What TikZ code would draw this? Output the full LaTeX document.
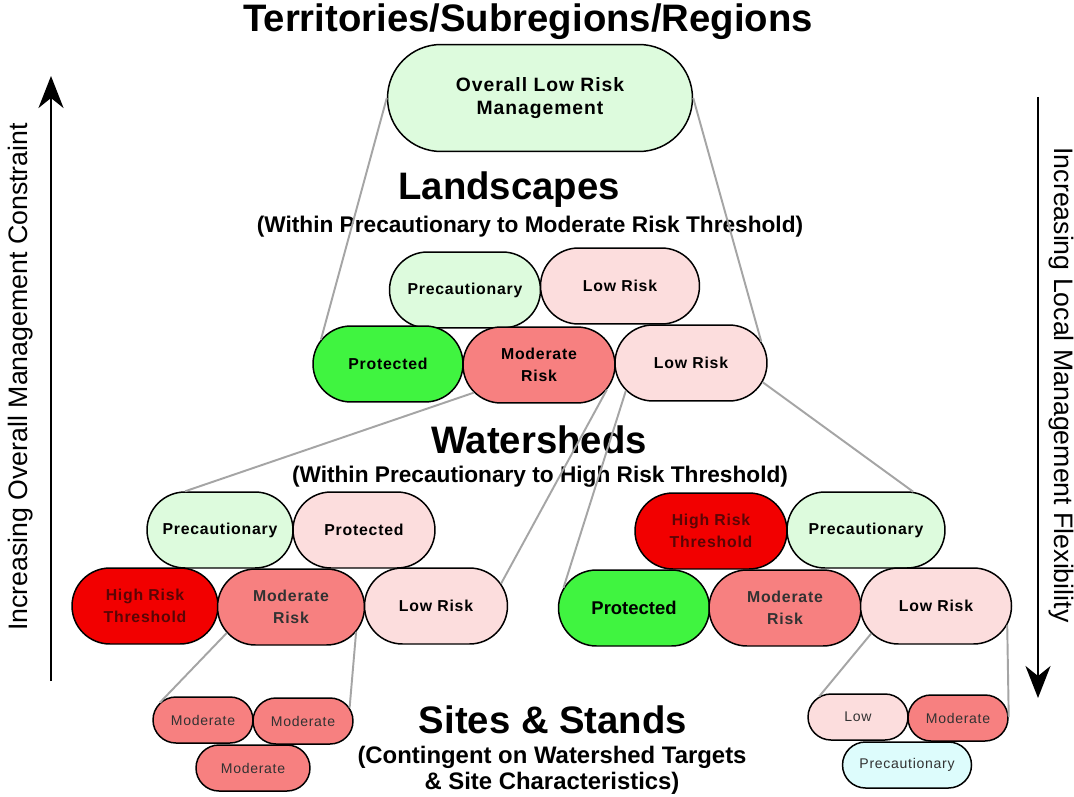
\documentclass[tikz,border=0pt]{standalone}
\usepackage{fontspec}
\setmainfont{Liberation Sans}
\newfontfamily\boxfont[LetterSpace=5]{Liberation Sans}
\usetikzlibrary{shapes.misc,arrows.meta}

\definecolor{palegreen}{RGB}{221,251,221}
\definecolor{palepink}{RGB}{252,221,221}
\definecolor{brightgreen}{RGB}{64,244,64}
\definecolor{salmon}{RGB}{247,128,128}
\definecolor{hotred}{RGB}{242,0,0}
\definecolor{palecyan}{RGB}{221,252,252}
\definecolor{linkgray}{RGB}{165,165,165}
\definecolor{darkred}{RGB}{90,5,5}
\definecolor{darktext}{RGB}{50,50,50}

\begin{document}
\begin{tikzpicture}
    [x=0.02cm,y=-0.02cm,
     pill/.style={draw, rounded rectangle, line width=0.85pt, inner sep=0pt, align=center,
       minimum width=3.04cm, minimum height=1.52cm, font=\boxfont\bfseries\fontsize{9}{12.5}\selectfont},
     site/.style={pill, minimum width=2cm, minimum height=0.92cm, font=\boxfont\fontsize{8}{10}\selectfont, text=darktext},
     link/.style={draw=linkgray, line width=1.1pt},
     heading/.style={font=\bfseries\fontsize{21.8}{24}\selectfont},
     subheading/.style={font=\bfseries\fontsize{12.9}{14.2}\selectfont, align=center},
     sidelabel/.style={font=\fontsize{15.2}{18}\selectfont}]
    \fill[white] (0,0) rectangle (1074,797);
    \useasboundingbox (0,0) rectangle (1074,797);

    % headings
    \node[heading] (t1) at (528,22) {Territories/Subregions/Regions};
    \node[heading] (t2) at (509,190) {Landscapes};
    \node[subheading] (t2s) at (530,227) {(Within Precautionary to Moderate Risk Threshold)};
    \node[heading] (t3) at (539,440) {Watersheds};
    \node[subheading] (t3s) at (540,477) {(Within Precautionary to High Risk Threshold)};
    \node[heading] (t4) at (553,720) {Sites \& Stands};
    \node[subheading, font=\bfseries\fontsize{13.6}{14.6}\selectfont] (t4s) at (552,770) {(Contingent on Watershed Targets\\\& Site Characteristics)};

    % top
    \node[pill, fill=palegreen, minimum width=6.1cm, minimum height=2.14cm, font=\boxfont\bfseries\fontsize{11}{13.6}\selectfont] (ovr) at (540,98) {Overall Low Risk\\Management};

    % landscapes
    \node[pill, fill=palegreen, minimum width=3.02cm] (lprec) at (465,290) {Precautionary};
    \node[pill, fill=palepink, minimum width=3.18cm] (llowa) at (620,286) {Low Risk};
    \node[pill, fill=brightgreen, minimum width=3cm] (lprot) at (388,364) {Protected};
    \node[pill, fill=salmon] (lmod) at (539,365) {Moderate\\Risk};
    \node[pill, fill=palepink] (llow) at (691,363) {Low Risk};

    % watersheds, left
    \node[pill, fill=palegreen, minimum width=2.92cm] (wprec) at (220,530) {Precautionary};
    \node[pill, fill=palepink, minimum width=2.84cm] (wprot) at (364,530) {Protected};
    \node[pill, fill=hotred, minimum width=2.92cm, text=darkred] (whigh) at (145,606) {High Risk\\Threshold};
    \node[pill, fill=salmon, minimum width=2.94cm, text=darktext] (wmod) at (291,607) {Moderate\\Risk};
    \node[pill, fill=palepink, minimum width=2.86cm] (wlow) at (436,606) {Low Risk};

    % watersheds, right
    \node[pill, fill=hotred, text=darkred] (ehigh) at (711,531) {High Risk\\Threshold};
    \node[pill, fill=palegreen, minimum width=3.16cm] (eprec) at (866,530) {Precautionary};
    \node[pill, fill=brightgreen, minimum width=3.02cm, font=\bfseries\fontsize{10.5}{12}\selectfont] (eprot) at (634,608) {Protected};
    \node[pill, fill=salmon, text=darktext] (emod) at (785,608) {Moderate\\Risk};
    \node[pill, fill=palepink, minimum width=3.02cm] (elow) at (936,606) {Low Risk};

    % sites
    \node[site, fill=salmon] (smoda) at (203,720) {Moderate};
    \node[site, fill=salmon] (smodb) at (303,721) {Moderate};
    \node[site, fill=salmon, minimum width=2.28cm] (smodc) at (253,768) {Moderate};
    \node[site, fill=palepink] (slow) at (858,717) {Low};
    \node[site, fill=salmon] (smodr) at (958,718) {Moderate};
    \node[site, fill=palecyan, minimum width=2.58cm] (sprec) at (907,765) {Precautionary};

    % links
    \foreach \from/\to in {ovr.west/lprot.160, ovr.east/llow.17, lmod.203/wprec.132, lmod.340/wlow.19,
        llow.203/eprot.164, llow.345/eprec.39, wmod.202/smoda.158, wmod.339/smodb.16,
        elow.203/slow.152, elow.345/smodr.1}
      \draw[link] (\from) -- (\to);

    % side arrows
    \coordinate (lbot) at (51,681);
    \coordinate (ltop) at (51,76);
    \coordinate (rtop) at (1038,97);
    \coordinate (rbot) at (1038,698);
    \draw[line width=1.4pt, -{Stealth[length=0.64cm, width=0.5cm, inset=0.2cm]}] (lbot) -- (ltop);
    \draw[line width=1.4pt, -{Stealth[length=0.64cm, width=0.5cm, inset=0.2cm]}] (rtop) -- (rbot);
    \node[sidelabel, rotate=90] (lside) at (21,377) {Increasing Overall Management Constraint};
    \node[sidelabel, rotate=-90] (rside) at (1061,385) {Increasing Local Management Flexibility};
\end{tikzpicture}
\end{document}
